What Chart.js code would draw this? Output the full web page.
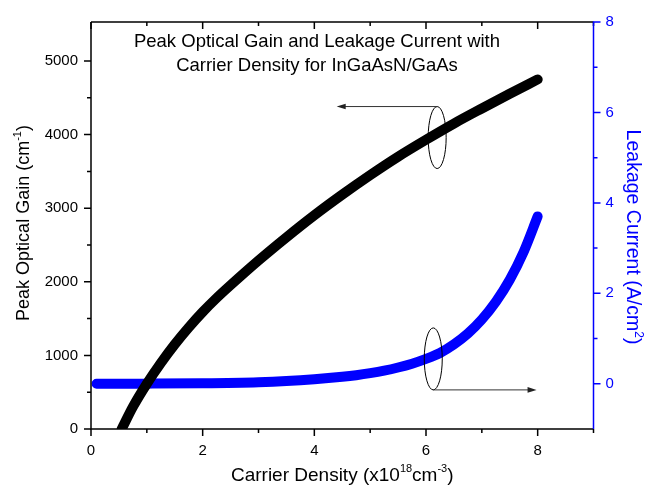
<!DOCTYPE html>
<html>
<head>
<meta charset="utf-8">
<script src="https://cdn.jsdelivr.net/npm/chart.js@4.4.0/dist/chart.umd.min.js"></script>
<style>
  html, body { margin: 0; padding: 0; background: #fff; }
  #wrap { width: 646px; height: 488px; position: relative; }
</style>
</head>
<body>
<div id="wrap"><canvas id="gainChart"></canvas></div>
<script>
// Peak optical gain (cm^-1) vs carrier density (x10^18 cm^-3)
const gainDensity = [0.55, 0.75, 1, 1.25, 1.5, 1.75, 2, 2.25, 2.5, 3, 3.5, 4, 4.5, 5, 5.5, 6, 6.5, 7, 7.5, 8];
const peakGain    = [0, 300, 615, 895, 1150, 1380, 1590, 1780, 1955, 2290, 2605, 2905, 3185, 3450, 3700, 3930, 4150, 4355, 4555, 4750];

// Leakage current (A/cm^2) vs carrier density
const leakDensity = [0.1, 1, 2, 3, 3.5, 4, 4.5, 4.75, 5, 5.25, 5.5, 5.75, 6, 6.25, 6.5, 6.75, 7, 7.25, 7.5, 7.75, 8];
const leakCurrent = [0, 0.003, 0.012, 0.035, 0.06, 0.1, 0.155, 0.19, 0.235, 0.29, 0.36, 0.445, 0.55, 0.68, 0.87, 1.11, 1.42, 1.81, 2.3, 2.92, 3.7];

// Axis ticks
const xTicks = [0, 2, 4, 6, 8];
const xMinor = [1, 3, 5, 7, 9];
const gainTicks = [0, 1000, 2000, 3000, 4000, 5000];
const gainMinor = [500, 1500, 2500, 3500, 4500];
const leakTicks = [0, 2, 4, 6, 8];
const leakMinor = [1, 3, 5, 7];

const FONT = "Arial, 'Liberation Sans', sans-serif";
const BLUE = '#0000ff';

// Draw text with superscript pieces, centred on (0,0) baseline
function richText(ctx, parts, size, color) {
    const sup = Math.round(size * 0.6);
    let total = 0;
    parts.forEach(p => {
        ctx.font = (p.sup ? sup : size) + 'px ' + FONT;
        p.w = ctx.measureText(p.t).width;
        total += p.w;
    });
    let x = -total / 2;
    ctx.fillStyle = color;
    ctx.textAlign = 'left';
    ctx.textBaseline = 'alphabetic';
    parts.forEach(p => {
        ctx.font = (p.sup ? sup : size) + 'px ' + FONT;
        ctx.fillText(p.t, x, p.sup ? -size * 0.45 : 0);
        x += p.w;
    });
}

function arrow(ctx, x1, y1, x2, y2) {
    const dir = Math.sign(x2 - x1);
    ctx.beginPath();
    ctx.moveTo(x1, y1);
    ctx.lineTo(x2 - dir * 6, y2);
    ctx.stroke();
    ctx.beginPath();
    ctx.moveTo(x2, y2);
    ctx.lineTo(x2 - dir * 9, y2 - 2.8);
    ctx.lineTo(x2 - dir * 9, y2 + 2.8);
    ctx.closePath();
    ctx.fill();
}

const framePlugin = {
    id: 'frame',
    afterDraw(chart) {
        const { ctx, chartArea: a, scales } = chart;
        const x = scales.x, yg = scales.yGain, yl = scales.yLeak;
        ctx.save();
        ctx.lineWidth = 1.5;
        ctx.strokeStyle = '#000';

        // frame lines
        ctx.beginPath();
        ctx.moveTo(a.left, a.top); ctx.lineTo(a.right, a.top);
        ctx.moveTo(a.left, a.bottom); ctx.lineTo(a.right, a.bottom);
        ctx.moveTo(a.left, a.top); ctx.lineTo(a.left, a.bottom + 0.75);
        ctx.stroke();

        // bottom and top ticks
        ctx.beginPath();
        xTicks.forEach(v => {
            const px = x.getPixelForValue(v);
            ctx.moveTo(px, a.bottom); ctx.lineTo(px, a.bottom + 7);
            ctx.moveTo(px, a.top); ctx.lineTo(px, a.top + 7);
        });
        xMinor.forEach(v => {
            const px = x.getPixelForValue(v);
            ctx.moveTo(px, a.bottom); ctx.lineTo(px, a.bottom + 4);
            ctx.moveTo(px, a.top); ctx.lineTo(px, a.top + 4);
        });
        // left ticks
        gainTicks.forEach(v => {
            const py = yg.getPixelForValue(v);
            ctx.moveTo(a.left, py); ctx.lineTo(a.left - 7, py);
        });
        gainMinor.forEach(v => {
            const py = yg.getPixelForValue(v);
            ctx.moveTo(a.left, py); ctx.lineTo(a.left - 4, py);
        });
        ctx.stroke();

        // right axis in blue
        ctx.strokeStyle = BLUE;
        ctx.beginPath();
        ctx.moveTo(a.right, a.top - 0.75); ctx.lineTo(a.right, a.bottom);
        leakTicks.forEach(v => {
            const py = yl.getPixelForValue(v);
            ctx.moveTo(a.right, py); ctx.lineTo(a.right + 7, py);
        });
        leakMinor.forEach(v => {
            const py = yl.getPixelForValue(v);
            ctx.moveTo(a.right, py); ctx.lineTo(a.right + 4, py);
        });
        ctx.stroke();

        // ellipses and arrows marking which curve belongs to which axis
        ctx.strokeStyle = '#000';
        ctx.fillStyle = '#000';
        ctx.lineWidth = 1;
        const ex1 = x.getPixelForValue(6.2), ey1 = yg.getPixelForValue(3960);
        ctx.beginPath();
        ctx.ellipse(ex1, ey1, 9, 31, 0, 0, Math.PI * 2);
        ctx.stroke();
        ctx.strokeStyle = '#333';
        ctx.fillStyle = '#222';
        arrow(ctx, ex1, ey1 - 31, x.getPixelForValue(4.4), ey1 - 31);

        ctx.strokeStyle = '#000';
        const ex2 = x.getPixelForValue(6.13), ey2 = yl.getPixelForValue(0.55);
        ctx.beginPath();
        ctx.ellipse(ex2, ey2, 9, 31, 0, 0, Math.PI * 2);
        ctx.stroke();
        ctx.strokeStyle = '#333';
        arrow(ctx, ex2, ey2 + 31, x.getPixelForValue(7.98), ey2 + 31);

        // title inside the plot
        ctx.fillStyle = '#000';
        ctx.font = '18.5px ' + FONT;
        ctx.textAlign = 'center';
        ctx.textBaseline = 'alphabetic';
        ctx.fillText('Peak Optical Gain and Leakage Current with', 317, 47);
        ctx.fillText('Carrier Density for InGaAsN/GaAs', 317, 71);

        // axis titles
        ctx.save();
        ctx.translate((a.left + a.right) / 2, 481);
        richText(ctx, [{ t: 'Carrier Density (x10' }, { t: '18', sup: true }, { t: 'cm' }, { t: '-3', sup: true }, { t: ')' }], 19, '#000');
        ctx.restore();

        ctx.save();
        ctx.translate(29, 223);
        ctx.rotate(-Math.PI / 2);
        richText(ctx, [{ t: 'Peak Optical Gain (cm' }, { t: '-1', sup: true }, { t: ')' }], 18, '#000');
        ctx.restore();

        ctx.save();
        ctx.translate(626.5, 237);
        ctx.rotate(Math.PI / 2);
        richText(ctx, [{ t: 'Leakage Current (A/cm' }, { t: '2', sup: true }, { t: ')' }], 19.5, BLUE);
        ctx.restore();

        ctx.restore();
    }
};

const tickFont = { family: FONT, size: 15 };

new Chart(document.getElementById('gainChart'), {
    type: 'line',
    data: {
        datasets: [
            {
                label: 'Peak Optical Gain',
                data: gainDensity.map((d, i) => ({ x: d, y: peakGain[i] })),
                yAxisID: 'yGain',
                borderColor: '#000',
                borderWidth: 10,
                clip: 0
            },
            {
                label: 'Leakage Current',
                data: leakDensity.map((d, i) => ({ x: d, y: leakCurrent[i] })),
                yAxisID: 'yLeak',
                borderColor: BLUE,
                borderWidth: 10,
                clip: 0
            }
        ]
    },
    options: {
        responsive: true,
        maintainAspectRatio: false,
        animation: false,
        layout: { padding: { top: 18, left: 0, right: 0, bottom: 0 } },
        plugins: { legend: { display: false }, tooltip: { enabled: false } },
        elements: {
            point: { radius: 0 },
            line: { cubicInterpolationMode: 'monotone', borderCapStyle: 'round', borderJoinStyle: 'round' }
        },
        scales: {
            x: {
                type: 'linear',
                min: 0, max: 9,
                grid: { display: false, drawTicks: false },
                border: { display: false },
                afterBuildTicks: s => { s.ticks = xTicks.map(v => ({ value: v })); },
                afterFit: s => { s.height = 59; },
                ticks: { padding: 13, color: '#000', font: tickFont, maxRotation: 0, autoSkip: false, callback: v => String(v) }
            },
            yGain: {
                position: 'left',
                min: 0, max: 5530,
                grid: { display: false, drawTicks: false },
                border: { display: false },
                afterBuildTicks: s => { s.ticks = gainTicks.map(v => ({ value: v })); },
                afterFit: s => { s.width = 91; },
                ticks: { padding: 13, color: '#000', font: tickFont, autoSkip: false, callback: v => String(v) }
            },
            yLeak: {
                position: 'right',
                min: -1, max: 8,
                grid: { display: false, drawTicks: false },
                border: { display: false },
                afterBuildTicks: s => { s.ticks = leakTicks.map(v => ({ value: v })); },
                afterFit: s => { s.width = 52.5; },
                ticks: { padding: 12, color: BLUE, font: tickFont, autoSkip: false, callback: v => String(v) }
            }
        }
    },
    plugins: [framePlugin]
});
</script>
</body>
</html>
